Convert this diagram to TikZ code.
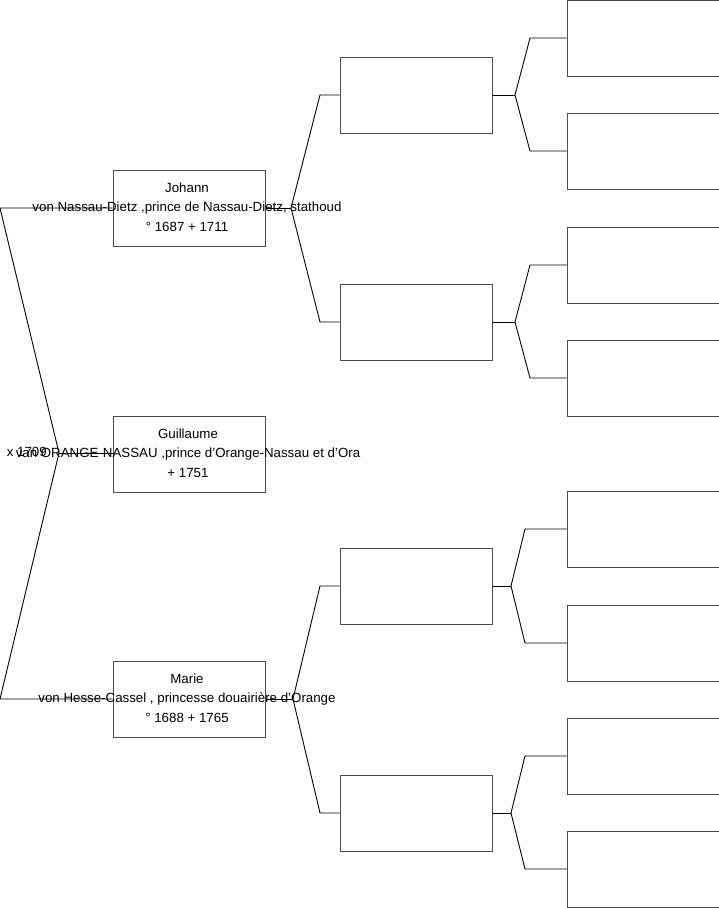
\documentclass[tikz,border=0pt]{standalone}
\usepackage{fontspec}
\setmainfont{Liberation Sans}
\usetikzlibrary{positioning, calc}

\begin{document}
\begin{tikzpicture}[
		x=1pt, y=-1pt,
		font=\fontsize{13.3}{19.5}\selectfont,
		person/.style={draw=black!70, rectangle, line width=1pt, minimum width=152pt, minimum height=76pt, inner sep=0pt},
		pname/.style={align=center, inner sep=0pt},
		link/.style={draw=black, line width=0.9pt},
	]
	\useasboundingbox (0,0) rectangle (719,908);
	% first column
	\node[person] (johann)    at (189,208) {};
	\node[person] (guillaume) at (189,454) {};
	\node[person] (marie)     at (189,699) {};
	\node[pname] (johann-txt) at (187,207) {Johann\\von Nassau-Dietz ,prince de Nassau-Dietz, stathoud\\° 1687 + 1711};
	\node[pname] (guillaume-txt) at (188,453) {Guillaume\\van ORANGE-NASSAU ,prince d'Orange-Nassau et d'Ora\\+ 1751};
	\node[pname] (marie-txt) at (187,698) {Marie\\von Hesse-Cassel , princesse douairière d'Orange\\° 1688 + 1765};
	% second column
	\node[person] (jf)  at (416,95)  {};
	\node[person] (jm)  at (416,322) {};
	\node[person] (mf)  at (416,586) {};
	\node[person] (mm)  at (416,813) {};
	% third column
	\node[person] (jff) at (643,38)  {};
	\node[person] (jfm) at (643,151) {};
	\node[person] (jmf) at (643,265) {};
	\node[person] (jmm) at (643,378) {};
	\node[person] (mff) at (643,529) {};
	\node[person] (mfm) at (643,643) {};
	\node[person] (mmf) at (643,756) {};
	\node[person] (mmm) at (643,869) {};
	% marriage
	\coordinate (husband) at (0,208);
	\coordinate (wife)    at (0,699);
	\coordinate (couple)  at (59,453);
	\node[pname, anchor=east] (wed) at (47,452) {x 1709};
	\draw[link] (johann.west) -- (husband) -- (couple) -- (wife) -- (marie.west);
	\draw[link] (couple) -- (guillaume.west |- couple);
	% parents
	\foreach \child/\fx/\ax/\up/\down in {johann/291/320/jf/jm, marie/293/320/mf/mm, jf/515/530/jff/jfm, jm/515/530/jmf/jmm, mf/511/525/mff/mfm, mm/511/525/mmf/mmm}{
		\coordinate (fx) at (\fx,0);
		\coordinate (ax) at (\ax,0);
		\coordinate (\child-fork) at (fx |- \child.east);
		\draw[link] (\child.east) -- (\child-fork);
		\draw[link] (\up.west) -- (ax |- \up.west) -- (\child-fork) -- (ax |- \down.west) -- (\down.west);
	}
\end{tikzpicture}
\end{document}
